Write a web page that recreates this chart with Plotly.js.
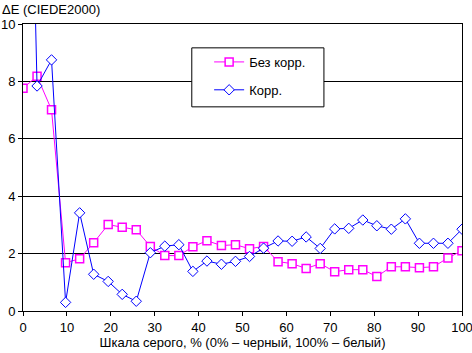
<!DOCTYPE html>
<html>
<head>
<meta charset="utf-8">
<script src="https://cdn.plot.ly/plotly-3.0.1.min.js"></script>
<style>html,body{margin:0;padding:0;background:#fff;}#chart{width:472px;height:353px;}</style>
</head>
<body>
<div id="chart"></div>
<script>
var grayLevels = [0,3.2,6.5,9.7,12.9,16.1,19.4,22.6,25.8,29,32.3,35.5,38.7,41.9,45.2,48.4,51.6,54.8,58.1,61.3,64.5,67.7,71,74.2,77.4,80.6,83.9,87.1,90.3,93.5,96.8,100];
var noCorr = [7.76,8.18,7.01,1.68,1.82,2.38,3.01,2.92,2.83,2.25,1.93,1.93,2.24,2.45,2.28,2.31,2.17,2.25,1.72,1.65,1.48,1.65,1.37,1.44,1.44,1.20,1.54,1.54,1.51,1.54,1.85,2.10];
var corr = [29,7.84,8.75,0.30,3.42,1.28,1.03,0.58,0.34,2.03,2.26,2.31,1.38,1.74,1.63,1.73,1.90,2.19,2.44,2.43,2.58,2.18,2.86,2.88,3.17,2.97,2.85,3.21,2.36,2.36,2.36,2.85];
var seriesNames = ['Без корр.', 'Корр.'];
var xTicks = [0,10,20,30,40,50,60,70,80,90,100];
var yTicks = [0,2,4,6,8,10];

var font = 'Liberation Sans, Arial, sans-serif';
var traces = [
  {x: grayLevels, y: noCorr, name: seriesNames[0], type: 'scatter', mode: 'lines+markers',
   legendgroup: 'a',
   line: {color: '#FF00FF', width: 1},
   marker: {symbol: 'square', size: 8, color: '#FFFFFF', line: {color: '#FF00FF', width: 1.5}}},
  {x: grayLevels, y: corr, name: seriesNames[1], type: 'scatter', mode: 'lines+markers',
   legendgroup: 'b',
   line: {color: '#0000FF', width: 1},
   marker: {symbol: 'diamond', size: 8, color: '#FFFFFF', line: {color: '#0000FF', width: 1}}}
];
var layout = {
  width: 472, height: 353,
  margin: {l: 23, r: 10, t: 24, b: 42},
  paper_bgcolor: '#FFFFFF', plot_bgcolor: '#FFFFFF',
  font: {family: font, size: 13, color: '#000000'},
  showlegend: true,
  xaxis: {range: [0, 100], tickvals: xTicks, ticktext: xTicks.map(String),
    showgrid: false, zeroline: false, showline: true, mirror: true, linecolor: '#000', linewidth: 1,
    ticks: 'outside', ticklen: 4, tickcolor: '#000', ticklabeloverflow: 'allow',
    title: {text: 'Шкала серого, % (0% – черный, 100% – белый)', font: {size: 13}, standoff: 3},
    tickfont: {size: 13}, fixedrange: true},
  yaxis: {range: [0, 10], tickvals: yTicks, ticktext: yTicks.map(String),
    showgrid: true, gridcolor: '#000', gridwidth: 1, zeroline: false,
    showline: true, mirror: true, linecolor: '#000', linewidth: 1,
    ticks: 'outside', ticklen: 4, tickcolor: '#000', tickfont: {size: 13}, fixedrange: true},
  legend: {x: 0.424, y: 0.92, xanchor: 'left', yanchor: 'top', bgcolor: 'rgba(0,0,0,0)', borderwidth: 0,
    traceorder: 'grouped', tracegroupgap: 8, font: {size: 13}, itemwidth: 30},
  shapes: [{type: 'rect', xref: 'paper', yref: 'paper', x0: 0.3845, x1: 0.6855, y0: 0.7113, y1: 0.9169,
    fillcolor: '#FFFFFF', line: {color: '#000', width: 1}, layer: 'above'}],
  annotations: [{text: 'ΔE (CIEDE2000)', xref: 'paper', yref: 'paper', x: -0.053, y: 1.083,
    xanchor: 'left', yanchor: 'top', showarrow: false, font: {size: 13}}]
};
Plotly.newPlot('chart', traces, layout, {staticPlot: true});
</script>
</body>
</html>
